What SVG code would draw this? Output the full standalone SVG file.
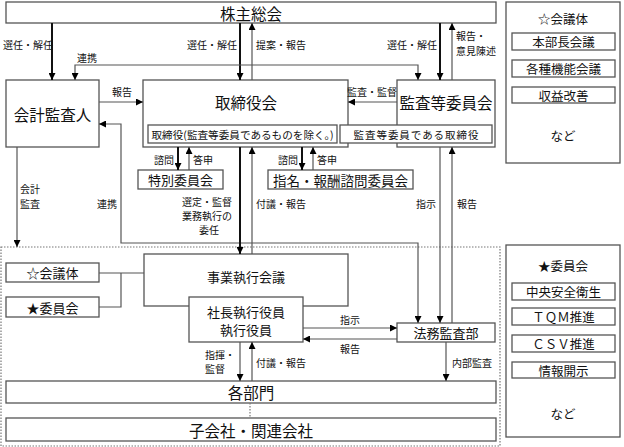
<svg xmlns="http://www.w3.org/2000/svg" width="624" height="447" viewBox="0 0 624 447">
<defs>
<style>
.box{fill:#fff;stroke:#555;stroke-width:1.3}
.t{font-family:"Noto Sans CJK JP","Noto Sans",sans-serif;fill:#111;dominant-baseline:central}
.c{text-anchor:middle}
.e{text-anchor:end}
.l{font-size:10px}
.m{font-size:13px}
.b{font-size:15.5px}
.s{font-size:10.5px}
.p{font-size:12.5px}
.thick{stroke:#111;stroke-width:2;fill:none}
.thin{stroke:#555;stroke-width:1.2;fill:none}
.dot{stroke:#777;stroke-width:1.2;fill:none;stroke-dasharray:1.5 1.5}
</style>
<marker id="a" viewBox="0 0 8 8" refX="8" refY="4" markerWidth="7" markerHeight="7" markerUnits="userSpaceOnUse" orient="auto-start-reverse"><path d="M0,0 L8,4 L0,8 z" fill="#000"/></marker>
</defs>
<rect width="624" height="447" fill="#fff"/>

<rect id="exec-area" x="1" y="247" width="499" height="199" class="dot"/>

<g id="kabunushi"><rect class="box" x="6" y="2" width="490" height="21"/><text class="t c b" x="251" y="13">株主総会</text></g>
<g id="panel-kaigi"><rect class="box" x="506" y="2" width="114" height="161"/>
<text class="t c p" x="563" y="18">☆会議体</text>
<rect class="box" x="512" y="33" width="103" height="17"/><text class="t c p" x="563.5" y="41.5">本部長会議</text>
<rect class="box" x="512" y="60" width="103" height="17"/><text class="t c p" x="563.5" y="68.5">各種機能会議</text>
<rect class="box" x="512" y="87" width="103" height="16"/><text class="t c p" x="563.5" y="95">収益改善</text>
<text class="t c p" x="563" y="135">など</text></g>

<g id="kaikei"><rect class="box" x="6" y="80" width="93" height="67"/><text class="t c b" x="52.5" y="114">会計監査人</text></g>
<g id="torishimariyakukai"><rect class="box" x="143" y="80" width="205" height="67"/><text class="t c b" x="246" y="102">取締役会</text>
<rect class="box" x="148" y="125" width="189" height="18"/><text class="t c s" x="242.5" y="134" textLength="182" lengthAdjust="spacingAndGlyphs">取締役(監査等委員であるものを除く。)</text></g>
<g id="kansa-iinkai"><rect class="box" x="397" y="80" width="98" height="67"/><text class="t c b" x="446" y="102">監査等委員会</text>
<rect class="box" x="340" y="125" width="152" height="18"/><text class="t c s" x="416" y="134" textLength="125" lengthAdjust="spacing">監査等委員である取締役</text></g>
<g id="tokubetsu"><rect class="box" x="138" y="170" width="85" height="19"/><text class="t c m" x="180.5" y="179.5">特別委員会</text></g>
<g id="shimei"><rect class="box" x="268" y="170" width="145" height="19"/><text class="t c m" x="340.5" y="179.5" style="font-size:13.5px">指名・報酬諮問委員会</text></g>

<g id="kaigitai"><rect class="box" x="6" y="263" width="93" height="19"/><text class="t c m" x="52.5" y="272.5">☆会議体</text></g>
<g id="iinkai"><rect class="box" x="6" y="297" width="93" height="20"/><text class="t c m" x="52.5" y="307">★委員会</text></g>
<g id="jigyo"><rect class="box" x="144" y="254" width="204" height="52"/><text class="t c m" x="246" y="276">事業執行会議</text></g>
<g id="shacho"><rect class="box" x="189" y="297" width="114" height="45"/><text class="t c m" x="246" y="311">社長執行役員</text><text class="t c m" x="246" y="329">執行役員</text></g>
<g id="homu"><rect class="box" x="397" y="323" width="98" height="19"/><text class="t c m" x="446" y="332.5">法務監査部</text></g>
<g id="kakubumon"><rect class="box" x="6" y="381" width="490" height="22"/><text class="t c b" x="251" y="392">各部門</text></g>
<g id="kogaisha"><rect class="box" x="6" y="418" width="490" height="23"/><text class="t c b" x="251" y="429.5">子会社・関連会社</text></g>

<g id="panel-iinkai"><rect class="box" x="506" y="245" width="114" height="192"/>
<text class="t c p" x="563" y="265">★委員会</text>
<rect class="box" x="512" y="283" width="103" height="17"/><text class="t c p" x="563.5" y="291.5">中央安全衛生</text>
<rect class="box" x="512" y="308" width="103" height="17"/><text class="t c p" x="563.5" y="316.5">ＴＱＭ推進</text>
<rect class="box" x="512" y="335" width="103" height="17"/><text class="t c p" x="563.5" y="343.5">ＣＳＶ推進</text>
<rect class="box" x="512" y="362" width="103" height="16"/><text class="t c p" x="563.5" y="370">情報開示</text>
<text class="t c p" x="563" y="413">など</text></g>

<g id="connectors">
<path class="thick" d="M52,23V80" marker-end="url(#a)"/>
<path class="thick" d="M240,23V80" marker-end="url(#a)"/>
<path class="thin" d="M252,80V23" marker-end="url(#a)"/>
<path class="thick" d="M440,23V80" marker-end="url(#a)"/>
<path class="thin" d="M452,80V23" marker-end="url(#a)"/>
<path class="thin" d="M75,80V65H418V80" marker-start="url(#a)" marker-end="url(#a)"/>
<path class="thin" d="M99,102H143" marker-end="url(#a)"/>
<path class="thin" d="M397,102H348" marker-end="url(#a)"/>
<path class="thin" d="M99,124H121V243H418V323" marker-start="url(#a)" marker-end="url(#a)"/>
<path class="thin" d="M17,147V247" marker-end="url(#a)"/>
<path class="thick" d="M178,147V170" marker-end="url(#a)"/>
<path class="thin" d="M189,170V147" marker-end="url(#a)"/>
<path class="thick" d="M302,147V170" marker-end="url(#a)"/>
<path class="thin" d="M313,170V147" marker-end="url(#a)"/>
<path class="thick" d="M240,147V254" marker-end="url(#a)"/>
<path class="thin" d="M252,254V147" marker-end="url(#a)"/>
<path class="thin" d="M440,147V323" marker-end="url(#a)"/>
<path class="thin" d="M452,323V147" marker-end="url(#a)"/>
<path class="thin" d="M99,273H144M99,307H121V273"/>
<path class="thin" d="M303,328H397" marker-end="url(#a)"/>
<path class="thin" d="M397,339H303" marker-end="url(#a)"/>
<path class="thin" d="M240,342V381" marker-end="url(#a)"/>
<path class="thin" d="M252,381V342" marker-end="url(#a)"/>
<path class="thin" d="M446,342V381" marker-end="url(#a)"/>
<path class="dot" d="M250,403V418"/>
</g>

<g id="labels">
<text class="t l" x="3" y="44">選任・解任</text>
<text class="t l" x="77" y="57">連携</text>
<text class="t c l" x="122" y="91">報告</text>
<text class="t e l" x="237" y="44">選任・解任</text>
<text class="t l" x="256" y="44">提案・報告</text>
<text class="t e l" x="437" y="44">選任・解任</text>
<text class="t l" x="456" y="35">報告・</text>
<text class="t l" x="456" y="50">意見陳述</text>
<text class="t c l" x="372" y="91">監査・監督</text>
<text class="t l" x="20" y="188">会計</text>
<text class="t l" x="20" y="203">監査</text>
<text class="t c l" x="107" y="203">連携</text>
<text class="t e l" x="174" y="159">諮問</text>
<text class="t l" x="193" y="159">答申</text>
<text class="t e l" x="298" y="159">諮問</text>
<text class="t l" x="317" y="159">答申</text>
<text class="t c l" x="207" y="201">選定・監督</text>
<text class="t c l" x="207" y="215">業務執行の</text>
<text class="t c l" x="209" y="229">委任</text>
<text class="t l" x="256" y="203">付議・報告</text>
<text class="t c l" x="426" y="203">指示</text>
<text class="t l" x="457" y="203">報告</text>
<text class="t l" x="205" y="354">指揮・</text>
<text class="t l" x="205" y="368">監督</text>
<text class="t l" x="256" y="362">付議・報告</text>
<text class="t c l" x="350" y="319">指示</text>
<text class="t c l" x="350" y="348">報告</text>
<text class="t l" x="452" y="362">内部監査</text>
</g>
</svg>
